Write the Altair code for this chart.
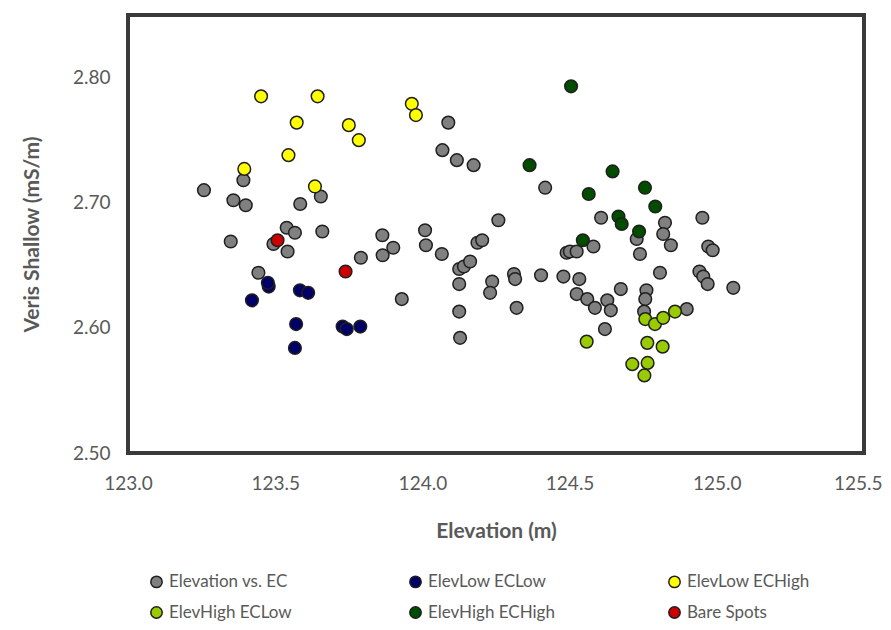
import altair as alt
import pandas as pd

series_names = ["Elevation vs. EC", "ElevLow ECLow", "ElevLow ECHigh",
                "ElevHigh ECLow", "ElevHigh ECHigh", "Bare Spots"]
series_colors = ["#808080", "#000066", "#ffff00", "#99cc00", "#004d00", "#cc0000"]

gray_x = [123.392, 123.258, 123.358, 123.400, 123.585, 123.655, 123.349, 123.539,
          123.567, 123.660, 123.494, 123.542, 123.864, 123.901, 123.865, 123.791,
          124.009, 124.012, 123.443, 123.930, 124.088, 124.068, 124.117, 124.174,
          124.417, 124.258, 124.066, 124.187, 124.203, 124.125, 124.141, 124.162,
          124.125, 124.125, 124.128, 124.237, 124.230, 124.311, 124.315, 124.320,
          124.403, 124.479, 124.533, 124.524, 124.560, 124.586, 124.628, 124.640,
          124.674, 124.620, 124.761, 124.757, 124.753, 124.898, 124.807, 124.941,
          124.954, 124.969, 125.056, 124.607, 124.728, 124.581, 124.490, 124.501,
          124.524, 124.739, 124.824, 124.818, 124.844, 124.951, 124.971, 124.986]
gray_y = [2.718, 2.710, 2.702, 2.698, 2.699, 2.705, 2.669, 2.680,
          2.676, 2.677, 2.667, 2.661, 2.674, 2.664, 2.658, 2.656,
          2.678, 2.666, 2.644, 2.623, 2.764, 2.742, 2.734, 2.730,
          2.712, 2.686, 2.659, 2.668, 2.670, 2.647, 2.649, 2.653,
          2.635, 2.613, 2.592, 2.637, 2.628, 2.643, 2.639, 2.616,
          2.642, 2.641, 2.639, 2.627, 2.623, 2.616, 2.622, 2.614,
          2.631, 2.599, 2.630, 2.623, 2.613, 2.615, 2.644, 2.645,
          2.641, 2.635, 2.632, 2.688, 2.671, 2.665, 2.660, 2.661,
          2.661, 2.659, 2.684, 2.675, 2.666, 2.688, 2.665, 2.662]

low_low_x = [123.478, 123.475, 123.421, 123.584, 123.612, 123.571, 123.567,
             123.729, 123.743, 123.789]
low_low_y = [2.633, 2.636, 2.622, 2.630, 2.628, 2.603, 2.584,
             2.601, 2.599, 2.601]

low_high_x = [123.452, 123.644, 123.573, 123.750, 123.784, 123.964, 123.978,
              123.545, 123.395, 123.635]
low_high_y = [2.785, 2.785, 2.764, 2.762, 2.750, 2.779, 2.770,
              2.738, 2.727, 2.713]

high_low_x = [124.558, 124.757, 124.790, 124.818, 124.858, 124.764, 124.816,
              124.713, 124.765, 124.754]
high_low_y = [2.589, 2.607, 2.603, 2.608, 2.613, 2.588, 2.585,
              2.571, 2.572, 2.562]

high_high_x = [124.505, 124.364, 124.646, 124.565, 124.756, 124.791, 124.666,
               124.677, 124.736, 124.545]
high_high_y = [2.793, 2.730, 2.725, 2.707, 2.712, 2.697, 2.689,
               2.683, 2.677, 2.670]

bare_x = [123.508, 123.739]
bare_y = [2.670, 2.645]

x_ticks = [123.0, 123.5, 124.0, 124.5, 125.0, 125.5]
y_ticks = [2.50, 2.60, 2.70, 2.80]

all_series = [(gray_x, gray_y), (low_low_x, low_low_y), (low_high_x, low_high_y),
              (high_low_x, high_low_y), (high_high_x, high_high_y), (bare_x, bare_y)]

rows = []
idx = 0
for name, (xs, ys) in zip(series_names, all_series):
    for xv, yv in zip(xs, ys):
        rows.append({"Elevation": xv, "EC": yv, "Series": name, "idx": idx})
        idx += 1
df = pd.DataFrame(rows)

FONT = "Lato"
TXT = "#595959"
last_tick = "datum.value >= 125.49"

chart = alt.Chart(df).mark_circle(
    size=160, opacity=1, stroke="#1f1f1f", strokeWidth=1.5
).encode(
    x=alt.X("Elevation:Q",
            scale=alt.Scale(domain=[123.0, 125.5], nice=False, zero=False),
            axis=alt.Axis(title="Elevation (m)", values=x_ticks, format=".1f",
                          grid=False, domain=False, ticks=False, labelFlush=False,
                          labelAlign={"condition": {"test": last_tick, "value": "right"},
                                      "value": "center"},
                          labelOffset={"condition": {"test": last_tick, "value": 18},
                                       "value": 0},
                          labelPadding=21, titlePadding=27)),
    y=alt.Y("EC:Q",
            scale=alt.Scale(domain=[2.50, 2.85], nice=False, zero=False),
            axis=alt.Axis(title="Veris Shallow (mS/m)", values=y_ticks, format=".2f",
                          grid=False, domain=False, ticks=False,
                          labelPadding=18, titlePadding=30)),
    color=alt.Color("Series:N",
                    scale=alt.Scale(domain=series_names, range=series_colors),
                    legend=alt.Legend(title=None, orient="none", legendX=20, legendY=558,
                                      direction="horizontal",
                                      columns=3, gridAlign="all", columnPadding=110,
                                      rowPadding=12, symbolType="circle", symbolSize=130,
                                      symbolStrokeColor="#1f1f1f", symbolStrokeWidth=1.5,
                                      symbolOpacity=1, labelFontSize=17, labelFont=FONT,
                                      labelColor=TXT, labelOffset=4, labelLimit=300)),
    order=alt.Order("idx:Q"),
).properties(
    width=736, height=438,
    autosize=alt.AutoSizeParams(type="none"),
    padding={"left": 120, "top": 7, "right": 19, "bottom": 169},
).configure_view(
    stroke="#3a3a3a", strokeWidth=4
).configure_axis(
    labelFont=FONT, labelFontSize=19, labelColor=TXT,
    titleFont=FONT, titleFontSize=21, titleFontWeight="bold", titleColor=TXT
)

chart.save("out.html", embed_options={"renderer": "svg", "actions": False})
